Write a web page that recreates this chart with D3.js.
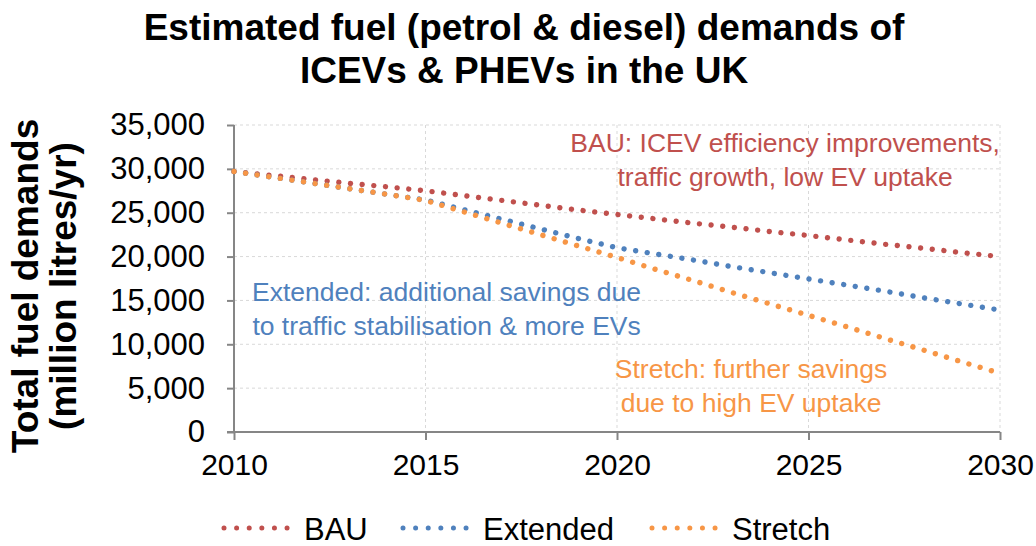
<!DOCTYPE html>
<html>
<head>
<meta charset="utf-8">
<script src="https://cdn.jsdelivr.net/npm/d3@7"></script>
<style>
  body { margin: 0; background: #fff; }
  svg { display: block; font-family: "Liberation Sans", Arial, sans-serif; }
</style>
</head>
<body>
<div id="wrapper"></div>
<script>
// data (million litres / yr)
const years = d3.range(2010, 2031)
const bauValues = [29700, 29250, 28800, 28350, 27950, 27500, 26950, 26400, 25850, 25300, 24800,
  24300, 23800, 23350, 22850, 22400, 21900, 21400, 20950, 20450, 20000]
const extendedValues = [29700, 29050, 28400, 27750, 27100, 26450, 25350, 24250, 23150, 22050, 21000,
  20300, 19600, 18850, 18150, 17450, 16750, 16050, 15300, 14600, 13900]
const stretchValues = [29700, 29050, 28400, 27750, 27100, 26400, 25100, 23800, 22500, 21200, 19900,
  18550, 17250, 15900, 14600, 13300, 12000, 10650, 9350, 8000, 6700]
const seriesNames = ["BAU", "Extended", "Stretch"]
const seriesColors = ["#C0504D", "#4F81BD", "#F79646"]
const xTicks = [2010, 2015, 2020, 2025, 2030]
const yTicks = [0, 5000, 10000, 15000, 20000, 25000, 30000, 35000]
const titleLines = ["Estimated fuel (petrol & diesel) demands of", "ICEVs & PHEVs in the UK"]
const yTitleLines = ["Total fuel demands", "(million litres/yr)"]
const notes = [
  { lines: ["BAU: ICEV efficiency improvements,", "traffic growth, low EV uptake"], year: 2024.39, value: 31950, color: 0 },
  { lines: ["Extended: additional savings due", "to traffic stabilisation & more EVs"], year: 2015.55, value: 14950, color: 1 },
  { lines: ["Stretch: further savings", "due to high EV uptake"], year: 2023.5, value: 6190, color: 2 }
]

const seriesData = [bauValues, extendedValues, stretchValues]

const dims = {
  width: 1036,
  height: 546,
  margin: { top: 125, right: 36, bottom: 114, left: 234 }
}
dims.boundedWidth = dims.width - dims.margin.left - dims.margin.right
dims.boundedHeight = dims.height - dims.margin.top - dims.margin.bottom

const wrapper = d3.select("#wrapper")
  .append("svg")
    .attr("width", dims.width)
    .attr("height", dims.height)

const bounds = wrapper.append("g")
  .attr("transform", `translate(${dims.margin.left},${dims.margin.top})`)

const xScale = d3.scaleLinear()
  .domain([2010, 2030])
  .range([0, dims.boundedWidth])

const yScale = d3.scaleLinear()
  .domain([0, 35000])
  .range([dims.boundedHeight, 0])

// gridlines
bounds.append("g")
  .selectAll("line")
  .data(yTicks.slice(1))
  .join("line")
    .attr("x1", 0)
    .attr("x2", dims.boundedWidth)
    .attr("y1", d => yScale(d))
    .attr("y2", d => yScale(d))
    .attr("stroke", "#d9d9d9")
    .attr("stroke-width", 1)
    .attr("stroke-dasharray", "3,3")

bounds.append("g")
  .selectAll("line")
  .data(xTicks.slice(1))
  .join("line")
    .attr("x1", d => xScale(d))
    .attr("x2", d => xScale(d))
    .attr("y1", 0)
    .attr("y2", dims.boundedHeight)
    .attr("stroke", "#d9d9d9")
    .attr("stroke-width", 1)
    .attr("stroke-dasharray", "3,3")

// axes
const yAxis = bounds.append("g")
  .call(d3.axisLeft(yScale)
    .tickValues(yTicks)
    .tickSize(7)
    .tickPadding(22)
    .tickFormat(d3.format(",")))
yAxis.select(".domain").remove()

const xAxis = bounds.append("g")
  .attr("transform", `translate(0,${dims.boundedHeight})`)
  .call(d3.axisBottom(xScale)
    .tickValues(xTicks)
    .tickSize(8)
    .tickPadding(7)
    .tickFormat(d3.format("d")))
xAxis.select(".domain").remove()

bounds.append("line")
  .attr("x1", 0).attr("x2", 0)
  .attr("y1", 0).attr("y2", dims.boundedHeight)
  .attr("stroke", "#868686").attr("stroke-width", 2)
bounds.append("line")
  .attr("x1", -7).attr("x2", dims.boundedWidth)
  .attr("y1", dims.boundedHeight).attr("y2", dims.boundedHeight)
  .attr("stroke", "#868686").attr("stroke-width", 2)

wrapper.selectAll(".tick line")
  .attr("stroke", "#868686")
  .attr("stroke-width", 2)
wrapper.selectAll(".tick text")
  .attr("fill", "#000")
  .style("font-size", "31px")
  .style("font-family", "'Liberation Sans', Arial, sans-serif")
xAxis.selectAll(".tick text").attr("dy", "0.92em")
  .style("font-size", "30px")

// lines
const lineGenerator = d3.line()
  .x((d, i) => xScale(years[i]))
  .y(d => yScale(d))

bounds.append("g")
  .selectAll("path")
  .data(seriesData)
  .join("path")
    .attr("d", d => lineGenerator(d))
    .attr("fill", "none")
    .attr("stroke", (d, i) => seriesColors[i])
    .attr("stroke-width", 5.4)
    .attr("stroke-linecap", "round")
    .attr("stroke-dasharray", "0.01,11.7")

// annotations
notes.forEach(n => {
  const t = bounds.append("text")
    .attr("x", xScale(n.year))
    .attr("y", yScale(n.value))
    .attr("text-anchor", "middle")
    .attr("fill", seriesColors[n.color])
    .style("font-size", "26.5px")
  n.lines.forEach((l, i) => {
    t.append("tspan")
      .attr("x", xScale(n.year))
      .attr("dy", i === 0 ? 0 : 34.5)
      .text(l)
  })
})

// title
const title = wrapper.append("text")
  .attr("text-anchor", "middle")
  .attr("font-weight", "bold")
  .style("font-size", "37px")
titleLines.forEach((l, i) => {
  title.append("tspan")
    .attr("x", 524)
    .attr("y", 39.5 + i * 43)
    .text(l)
})

// y axis title
const yTitle = wrapper.append("text")
  .attr("transform", "translate(0,286) rotate(-90)")
  .attr("text-anchor", "middle")
  .attr("font-weight", "bold")
  .style("font-size", "37px")
yTitleLines.forEach((l, i) => {
  yTitle.append("tspan")
    .attr("x", 0)
    .attr("y", 38 + i * 38)
    .text(l)
})

// legend
const legendX = [224, 403, 652]
const legend = wrapper.append("g")
  .selectAll("g")
  .data(seriesNames)
  .join("g")
    .attr("transform", (d, i) => `translate(${legendX[i]},528)`)

legend.append("line")
  .attr("x1", 0).attr("x2", 64)
  .attr("y1", 0).attr("y2", 0)
  .attr("stroke", (d, i) => seriesColors[i])
  .attr("stroke-width", 5)
  .attr("stroke-linecap", "round")
  .attr("stroke-dasharray", "0.01,12.6")

legend.append("text")
  .attr("x", 80)
  .attr("y", 12)
  .style("font-size", "31px")
  .text(d => d)
</script>
</body>
</html>
